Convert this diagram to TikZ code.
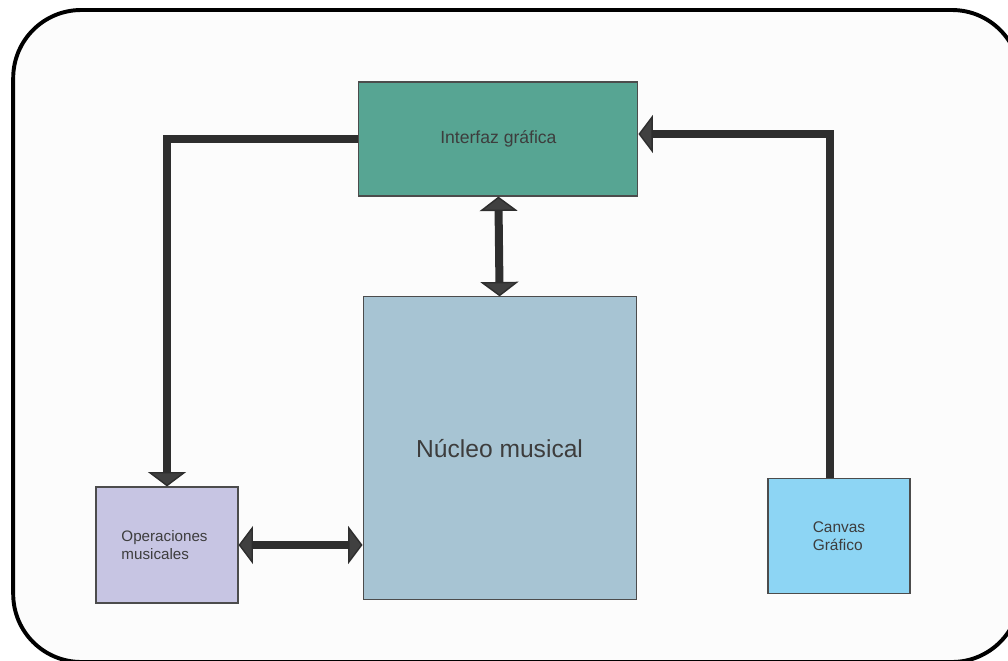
\documentclass[tikz,border=0pt]{standalone}
\usepackage{fontspec}
\setmainfont{Liberation Sans}
\usetikzlibrary{arrows.meta}
\definecolor{interfaz}{HTML}{57A593}
\definecolor{nucleo}{HTML}{A7C4D3}
\definecolor{operac}{HTML}{C7C5E3}
\definecolor{canvas}{HTML}{8DD5F4}
\definecolor{conn}{HTML}{2E2E2E}
\definecolor{txt}{HTML}{3D3D3D}
\definecolor{fondo}{HTML}{FCFCFC}
\tikzset{
    bloque/.style={shape=rectangle,draw=black!70,line width=0.8pt,inner sep=0pt,text=txt},
    flecha/.style={line width=5.7pt,draw=conn},
    punta/.tip={Triangle[length=0.36cm,width=0.95cm,line width=1pt,fill=black!75]}
}
\begin{document}
\begin{tikzpicture}
    \useasboundingbox (0,0) rectangle (25.2,-16.5);
    \draw[line width=2.8pt,fill=fondo,rounded corners=1.7cm] (0.33,-0.25) rectangle (25.5,-16.55);

    \node[bloque,fill=interfaz,minimum width=6.975cm,minimum height=2.85cm,font=\fontsize{12.5}{15}\selectfont] (I) at (12.46,-3.475) {Interfaz gráfica};
    \node[bloque,fill=nucleo,minimum width=6.825cm,minimum height=7.575cm,font=\fontsize{17.5}{21}\selectfont] (N) at (12.49,-11.21) {Núcleo musical};
    \node[bloque,fill=operac,minimum width=3.55cm,minimum height=2.9cm,font=\fontsize{10.8}{12.8}\selectfont,align=left] (O) at (4.175,-13.625) {Operaciones\\musicales\hspace*{1.55em}};
    \node[bloque,fill=canvas,minimum width=3.55cm,minimum height=2.875cm,font=\fontsize{11}{12.8}\selectfont,align=left] (C) at (20.975,-13.41) {Canvas\\Gráfico};

    \draw[flecha,-punta] (I.west) -| (O.north);
    \draw[flecha,-punta] ([xshift=-0.225cm]C.north) |- ([yshift=0.125cm]I.east);
    \draw[flecha,punta-punta] (I.south) -- (N.north);
    \draw[flecha,punta-punta] (O.east) -- (O.east -| N.west);
\end{tikzpicture}
\end{document}
